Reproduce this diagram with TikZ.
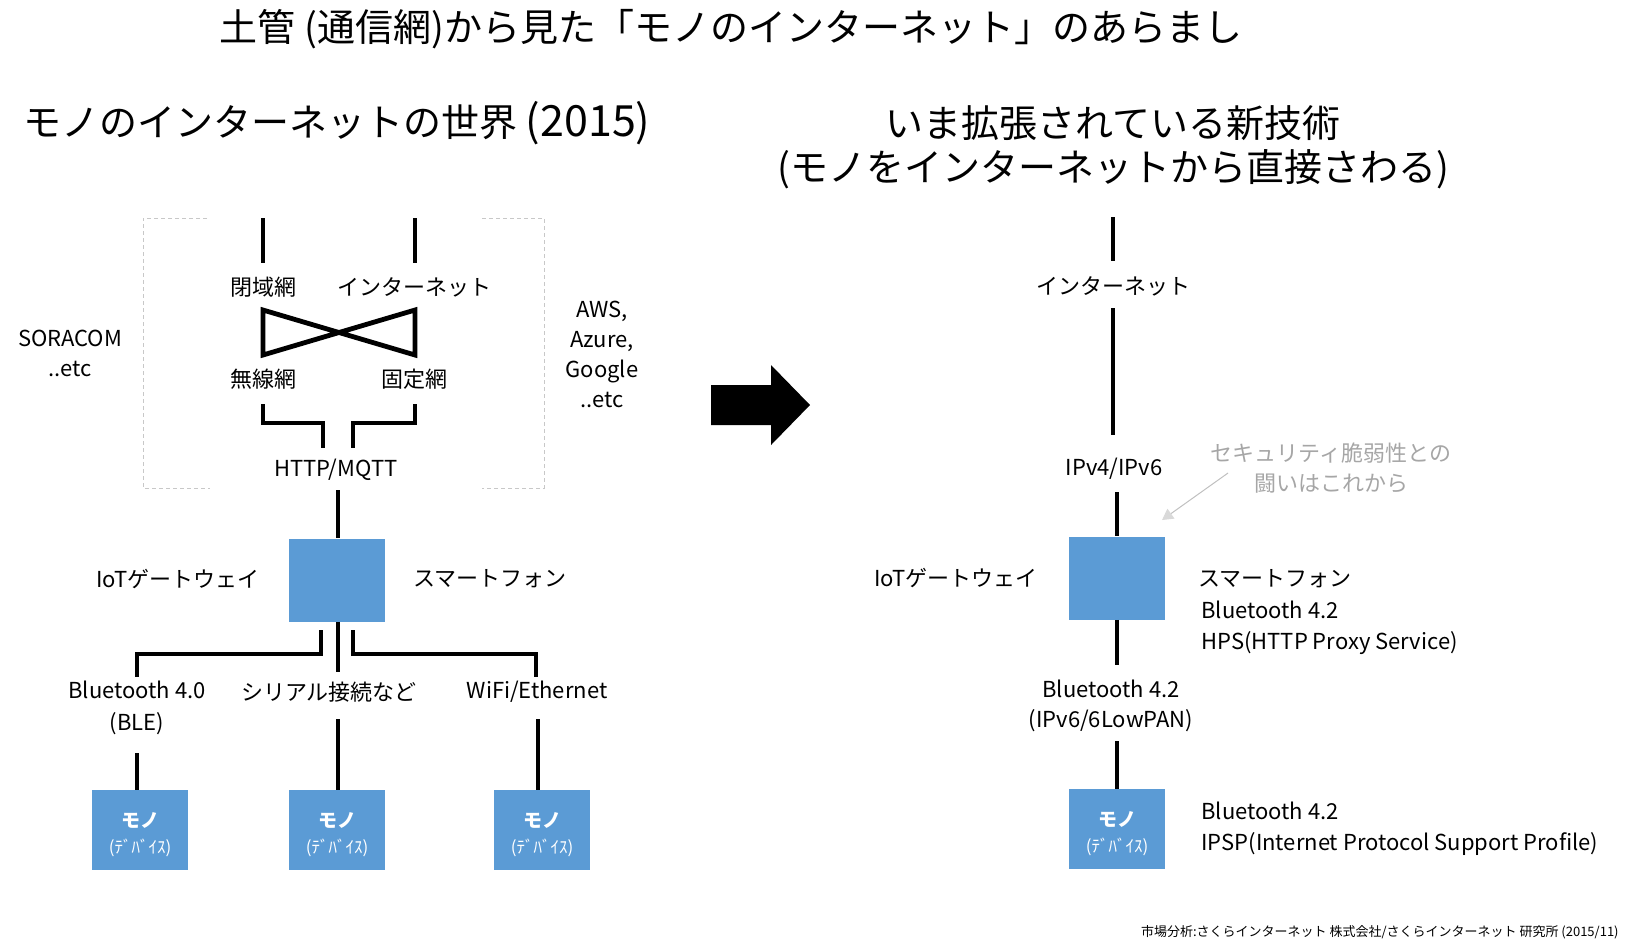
\documentclass[tikz,border=0pt]{standalone}
\usepackage{fontspec}
\setmainfont{Noto Sans CJK JP}
\usetikzlibrary{arrows.meta}
\definecolor{boxblue}{HTML}{5B9BD5}
\definecolor{dashgray}{HTML}{C8C8C8}
\definecolor{notegray}{HTML}{A6A6A6}
\definecolor{arrowgray}{HTML}{C0C0C0}
\definecolor{headgray}{HTML}{D9D9D9}
\newcommand{\devtext}{\rule{0pt}{12pt}{\bfseries\fontsize{9.5}{10}\selectfont モノ}\\(ﾃﾞﾊﾞｲｽ)}
\begin{document}
\begin{tikzpicture}[x=0.5pt,y=-0.5pt,
  wire/.style={line width=2.4pt},
  lbl/.style={font=\fontsize{11}{15}\selectfont, inner sep=0pt, align=center},
  lbll/.style={font=\fontsize{11}{15.5}\selectfont, inner sep=0pt, align=left, anchor=west},
  heading/.style={font=\fontsize{19}{23}\selectfont, inner sep=0pt, align=center},
  blk/.style={fill=boxblue, draw=none, minimum width=48pt, minimum height=41.5pt, inner sep=0pt},
  dev/.style={fill=boxblue, draw=none, minimum width=48pt, minimum height=40pt, inner sep=0pt, text=white, align=center, font=\fontsize{8.5}{13}\selectfont},
  framebox/.style={draw=dashgray, line width=0.5pt, dash pattern=on 2pt off 1.5pt},
  note/.style={font=\fontsize{11}{15}\selectfont, inner sep=0pt, align=center, text=notegray}
]
\useasboundingbox (0,0) rectangle (1636,950);

% ---------- titles ----------
\node[inner sep=0pt, font=\fontsize{19}{22}\selectfont] (title) at (731,29) {土管 (通信網)から見た「モノのインターネット」のあらまし};
\node[heading, anchor=west] (hleft) at (23,123) {モノのインターネットの世界 {\fontsize{21.5}{23}\selectfont (2015)}};
\node[heading] (hright1) at (1113,123) {いま拡張されている新技術};
\node[heading] (hright2) at (1113,169) {(モノをインターネットから直接さわる)};

% ---------- left: cloud frame ----------
\draw[framebox] (207,218) -- (143,218) -- (143,488) -- (210,488);
\draw[framebox] (482,218) -- (544,218) -- (544,488) -- (482,488);

\coordinate (lt1a) at (263,218); \coordinate (lt1b) at (263,263);
\coordinate (lt2a) at (415,218); \coordinate (lt2b) at (415,263);
\draw[wire] (lt1a) -- (lt1b);
\draw[wire] (lt2a) -- (lt2b);

\node[lbl] (closed) at (263,287) {閉域網};
\node[lbl] (inet) at (414,287) {インターネット};

\coordinate (bx1) at (263,310); \coordinate (bx2) at (263,355);
\coordinate (bx3) at (415,310); \coordinate (bx4) at (415,355);
\draw[wire, line join=miter] (bx1) -- (bx2) -- (bx3) -- (bx4) -- cycle;

\node[lbl] (wireless) at (263,379) {無線網};
\node[lbl] (fixed) at (414,379) {固定網};

\coordinate (bl1) at (263,404); \coordinate (bl2) at (263,423);
\coordinate (bl3) at (323,423); \coordinate (bl4) at (323,448);
\coordinate (br1) at (415,404); \coordinate (br2) at (415,423);
\coordinate (br3) at (353,423); \coordinate (br4) at (353,448);
\draw[wire, line join=miter] (bl1) -- (bl2) -- (bl3) -- (bl4);
\draw[wire, line join=miter] (br1) -- (br2) -- (br3) -- (br4);

\node[lbl] (http) at (336,470) {HTTP/MQTT};

\node[lbl] (soracom) at (70,353) {SORACOM\\..etc};
\node[lbl] (aws) at (602,354) {AWS,\\Azure,\\Google\\..etc};

% ---------- left: gateway ----------
\node[blk] (gwl) at (337,580) {};
\coordinate (gtop) at (338,490);
\draw[wire] (gtop) -- (gwl.north -| gtop);

\node[lbl] (iotl) at (178,579) {IoTゲートウェイ};
\node[lbl] (smartl) at (490,579) {スマートフォン};

\coordinate (ga1) at (321,630); \coordinate (ga2) at (321,654);
\coordinate (ga3) at (137,654); \coordinate (ga4) at (137,677);
\coordinate (gc1) at (338,672);
\coordinate (gb1) at (353,630); \coordinate (gb2) at (353,654);
\coordinate (gb3) at (536,654); \coordinate (gb4) at (536,677);
\draw[wire, line join=miter] (ga1) -- (ga2) -- (ga3) -- (ga4);
\draw[wire] (gwl.south -| gc1) -- (gc1);
\draw[wire, line join=miter] (gb1) -- (gb2) -- (gb3) -- (gb4);

\node[lbl, font=\fontsize{11}{16}\selectfont] (ble) at (137,708) {Bluetooth 4.0\\(BLE)};
\node[lbl] (serial) at (329,692) {シリアル接続など};
\node[lbl] (wifi) at (537,692) {WiFi/Ethernet};

% ---------- left: devices ----------
\node[dev] (d1) at (140,830) {\devtext};
\node[dev] (d2) at (337,830) {\devtext};
\node[dev] (d3) at (542,830) {\devtext};
\coordinate (dl1) at (137,753);
\coordinate (dl2) at (338,719);
\coordinate (dl3) at (538,719);
\draw[wire] (dl1) -- (d1.north -| dl1);
\draw[wire] (dl2) -- (d2.north -| dl2);
\draw[wire] (dl3) -- (d3.north -| dl3);

% ---------- big arrow ----------
\fill[black] (711,385) -- (771,385) -- (771,365) -- (810,405) -- (771,445) -- (771,425) -- (711,425) -- cycle;

% ---------- right side ----------
\coordinate (rt1) at (1113,217); \coordinate (rt2) at (1113,261);
\draw[wire] (rt1) -- (rt2);
\node[lbl] (inetr) at (1113,286) {インターネット};
\coordinate (rt3) at (1113,308); \coordinate (rt4) at (1113,435);
\draw[wire] (rt3) -- (rt4);
\node[lbl] (ipv) at (1114,469) {IPv4/IPv6};

\node[blk] (gwr) at (1117,578) {};
\coordinate (rt5) at (1117,492);
\draw[wire] (rt5) -- (gwr.north);
\coordinate (rt6) at (1117,665);
\draw[wire] (gwr.south) -- (rt6);

\node[lbl] (iotr) at (956,578) {IoTゲートウェイ};
\node[lbl, anchor=west] (smartr) at (1198,579) {スマートフォン};
\node[lbll] (hps) at (1201,628) {Bluetooth 4.2\\HPS(HTTP Proxy Service)};

\node[lbl] (bt42) at (1111,706) {Bluetooth 4.2\\(IPv6/6LowPAN)};

\node[dev] (dr) at (1117,829) {\devtext};
\coordinate (rt7) at (1117,741);
\draw[wire] (rt7) -- (dr.north);
\node[lbll] (ipsp) at (1201,829) {Bluetooth 4.2\\IPSP(Internet Protocol Support Profile)};

% ---------- note ----------
\node[note] (sec) at (1331,468) {セキュリティ脆弱性との\\闘いはこれから};
\coordinate (na) at (1228,473);
\coordinate (nb) at (1162,520);
\draw[arrowgray, line width=0.5pt, -{Triangle[length=5.5pt,width=6pt,fill=headgray,color=headgray]}] (na) -- (nb);

% ---------- footer ----------
\node[inner sep=0pt, anchor=east, font=\fontsize{6.5}{8}\selectfont] (foot) at (1619,932) {市場分析:さくらインターネット 株式会社/さくらインターネット 研究所 (2015/11)};
\end{tikzpicture}
\end{document}
